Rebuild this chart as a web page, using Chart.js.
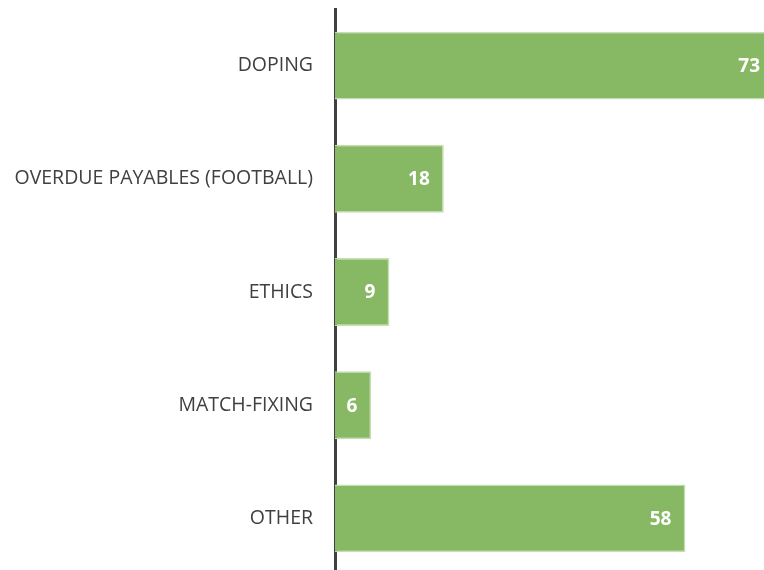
<!DOCTYPE html>
<html>
<head>
<meta charset="utf-8">
<script src="https://cdn.jsdelivr.net/npm/chart.js@4.4.0/dist/chart.umd.min.js"></script>
<style>
    html, body { margin: 0; padding: 0; background: #fff; overflow: hidden; }
    #wrap { width: 764px; height: 575px; position: relative; }
</style>
</head>
<body>
<div id="wrap"><canvas id="casesChart"></canvas></div>
<script>
// Datos del gráfico
const categories = ['DOPING', 'OVERDUE PAYABLES (FOOTBALL)', 'ETHICS', 'MATCH-FIXING', 'OTHER'];
const caseCounts = [73, 18, 9, 6, 58];

const barColor = '#87b964';
const barBorder = '#c4ddb2';
const textColor = '#404040';

// Etiquetas de valor dentro del extremo de la barra
const valueLabels = {
    id: 'valueLabels',
    afterDatasetsDraw(chart) {
        const ctx = chart.ctx;
        const area = chart.chartArea;
        const meta = chart.getDatasetMeta(0);
        ctx.save();
        ctx.fillStyle = '#ffffff';
        ctx.font = 'bold 19px "Open Sans", sans-serif';
        ctx.textAlign = 'right';
        ctx.textBaseline = 'middle';
        meta.data.forEach((bar, i) => {
            let x = Math.min(bar.x - 14, area.right - 4);
            ctx.fillText(String(caseCounts[i]), x, bar.y + 1);
        });
        ctx.restore();
    }
};

new Chart(document.getElementById('casesChart'), {
    type: 'bar',
    data: {
        labels: categories,
        datasets: [{
            data: caseCounts,
            backgroundColor: barColor,
            borderColor: barBorder,
            borderWidth: 1.5,
            borderSkipped: 'start',
            categoryPercentage: 0.6,
            barPercentage: 1.0
        }]
    },
    options: {
        indexAxis: 'y',
        responsive: true,
        maintainAspectRatio: false,
        animation: false,
        layout: { padding: { top: 9, right: 0, bottom: 0, left: 0 } },
        plugins: {
            legend: { display: false },
            tooltip: { enabled: false }
        },
        scales: {
            x: {
                display: false,
                min: 0,
                max: 71
            },
            y: {
                afterFit(scale) {
                    scale.width = 335;
                    scale.paddingTop = 0;
                    scale.paddingBottom = 0;
                },
                grid: { display: false, drawTicks: false },
                border: { display: true, color: textColor, width: 3 },
                ticks: {
                    color: textColor,
                    padding: 22,
                    font: { family: '"Open Sans", sans-serif', size: 19.5 }
                }
            }
        }
    },
    plugins: [valueLabels]
});
</script>
</body>
</html>
